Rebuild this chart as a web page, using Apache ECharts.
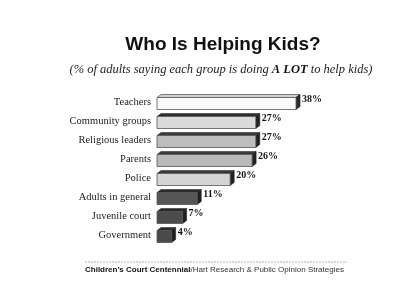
<!DOCTYPE html>
<html>
<head>
    <meta charset="utf-8">
    <title>Who Is Helping Kids?</title>
    <script type="text/javascript" src="https://cdn.jsdelivr.net/npm/echarts@6/dist/echarts.min.js"></script>
    <style>
        html, body { margin: 0; padding: 0; background: #fff; }
    </style>
</head>
<body>
<div id="main" style="width: 400px;height:308px;"></div>
<script type="text/javascript">
    // data
    var groups = ['Teachers', 'Community groups', 'Religious leaders', 'Parents',
        'Police', 'Adults in general', 'Juvenile court', 'Government'];
    var shares = [38, 27, 27, 26, 20, 11, 7, 4];

    // shading of each bar: front, top, side
    var frontColors = ['#fbfbfb', '#dadada', '#bdbdbd', '#b9b9b9', '#d4d4d4', '#565656', '#4c4c4c', '#4a4a4a'];
    var topColors = ['#d0d0d0', '#2e2e2e', '#3a3a3a', '#3a3a3a', '#3a3a3a', '#2a2a2a', '#2a2a2a', '#2a2a2a'];
    var sideColors = ['#2a2a2a', '#222', '#222', '#222', '#222', '#1e1e1e', '#1e1e1e', '#1e1e1e'];

    var serif = '"Liberation Serif", "DejaVu Serif", serif';
    var sans = '"Liberation Sans", Arial, sans-serif';

    var myChart = echarts.init(document.getElementById('main'));

    function renderBar(params, api) {
        var idx = api.value(0);
        var val = api.value(1);
        var p0 = api.coord([0, idx]);
        var p1 = api.coord([val, idx]);
        var h = 12, dx = 4, dy = 3;
        var top = p0[1] - h / 2 + 1;
        var bot = top + h;
        var xl = p0[0], xr = p1[0];
        return {
            type: 'group',
            children: [
                {
                    type: 'polygon',
                    shape: { points: [[xl, top], [xl + dx, top - dy], [xr + dx, top - dy], [xr, top]] },
                    style: { fill: topColors[idx], stroke: '#333', lineWidth: 0.6 }
                },
                {
                    type: 'polygon',
                    shape: { points: [[xr, top], [xr + dx, top - dy], [xr + dx, bot - dy], [xr, bot]] },
                    style: { fill: sideColors[idx], stroke: '#222', lineWidth: 0.6 }
                },
                {
                    type: 'rect',
                    shape: { x: xl, y: top, width: xr - xl, height: h },
                    style: { fill: frontColors[idx], stroke: '#555', lineWidth: 0.8 }
                },
                {
                    type: 'text',
                    style: {
                        x: xr + dx + 2, y: top + 2,
                        text: val + '%',
                        fill: '#111',
                        font: 'bold 10px ' + serif,
                        verticalAlign: 'middle'
                    }
                }
            ]
        };
    }

    var option = {
        animation: false,
        title: [{
            text: 'Who Is Helping Kids?',
            left: 218, top: 30, textAlign: 'center',
            textStyle: { fontFamily: sans, fontWeight: 'bold', fontSize: 19, color: '#111' }
        }, {
            text: '{i|(% of adults saying each group is doing }{b|A LOT}{i| to help kids)}',
            left: 216, top: 58, textAlign: 'center',
            textStyle: {
                rich: {
                    i: { fontFamily: serif, fontStyle: 'italic', fontWeight: 'normal', fontSize: 12.5, color: '#222' },
                    b: { fontFamily: serif, fontStyle: 'italic', fontWeight: 'bold', fontSize: 12.5, color: '#111' }
                }
            }
        }],
        grid: { left: 157, top: 93, width: 150, height: 152 },
        xAxis: { type: 'value', min: 0, max: 41, show: false },
        yAxis: {
            type: 'category',
            data: groups,
            inverse: true,
            axisLine: { show: false },
            axisTick: { show: false },
            axisLabel: { fontFamily: serif, fontSize: 10.5, color: '#222', margin: 6 }
        },
        series: [{
            type: 'custom',
            renderItem: renderBar,
            encode: { x: 1, y: 0 },
            data: shares.map(function (v, i) { return [i, v]; })
        }],
        graphic: [{
            type: 'line',
            shape: { x1: 85, y1: 262, x2: 347, y2: 262 },
            style: { stroke: '#999', lineWidth: 0.8, lineDash: [2, 1] }
        }, {
            type: 'text',
            left: 85, top: 266,
            style: {
                text: '{b|Children\u2019s Court Centennial}{n|/Hart Research & Public Opinion Strategies}',
                rich: {
                    b: { fontFamily: sans, fontWeight: 'bold', fontSize: 8, fill: '#111' },
                    n: { fontFamily: sans, fontSize: 8, fill: '#333' }
                }
            }
        }]
    };
    myChart.setOption(option);
</script>
</body>
</html>
